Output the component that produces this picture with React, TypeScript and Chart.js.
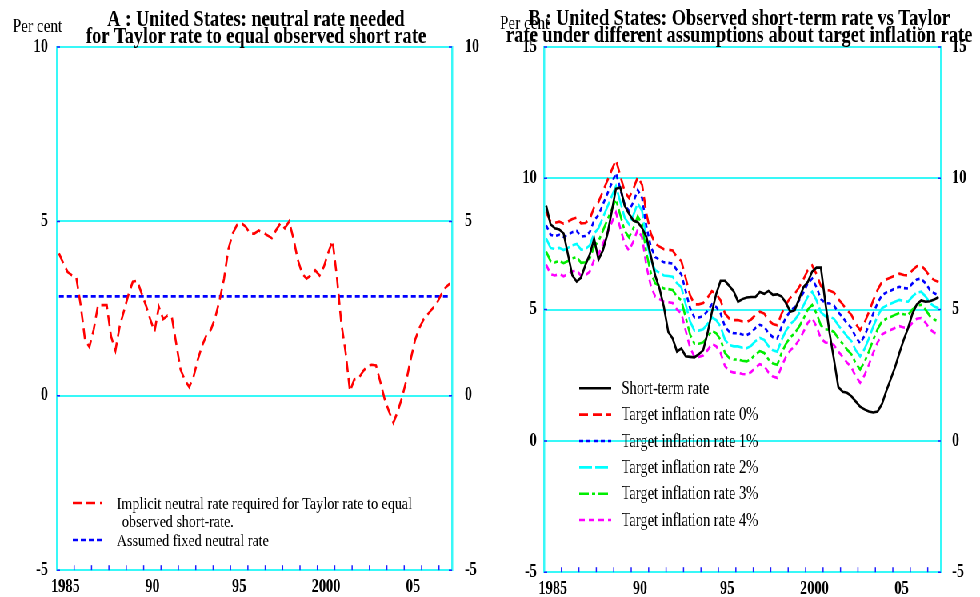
import React, { useEffect, useRef } from 'react';
import { Chart, registerables } from 'chart.js';

Chart.register(...registerables);

// ---------- data ----------
const START_YEAR = 1985; // quarterly data, 1985Q1 ... 2007Q3
const X_MIN = 1985;
const X_MAX = 2007.75;
const X_LABEL_POS = [1985.5, 1990.5, 1995.5, 2000.5, 2005.5];
const X_LABELS = ['1985', '90', '95', '2000', '05'];
const X_TICK_YEARS = [1986, 1987, 1988, 1989, 1990, 1991, 1992, 1993, 1994, 1995, 1996, 1997, 1998, 1999, 2000, 2001, 2002, 2003, 2004, 2005, 2006, 2007];

const LEFT_Y_TICKS = [-5, 0, 5, 10];
const RIGHT_Y_TICKS = [-5, 0, 5, 10, 15];

const LEFT_TITLE = ['A : United States: neutral rate needed', 'for Taylor rate to equal observed short rate'];
const RIGHT_TITLE = ['B : United States: Observed short-term rate vs Taylor', 'rate under different assumptions about target inflation rate'];
const Y_UNIT = 'Per cent';

const IMPLICIT_NEUTRAL = [
  4.08, 3.8, 3.55, 3.45, 3.38, 2.6, 1.6, 1.4, 1.9, 2.6,
  2.6, 2.6, 1.7, 1.3, 2.0, 2.45, 2.9, 3.27, 3.3, 2.95,
  2.6, 2.2, 1.84, 2.55, 2.2, 2.3, 2.25, 1.5, 0.75, 0.45,
  0.25, 0.55, 1.05, 1.45, 1.75, 1.9, 2.25, 2.75, 3.35, 4.2,
  4.65, 4.9, 4.95, 4.85, 4.65, 4.65, 4.74, 4.68, 4.6, 4.52,
  4.75, 4.95, 4.8, 5.0, 4.5, 3.9, 3.5, 3.36, 3.45, 3.6,
  3.45, 3.7, 4.1, 4.45, 3.4, 2.1, 1.25, 0.13, 0.47, 0.5,
  0.7, 0.85, 0.89, 0.87, 0.4, -0.1, -0.45, -0.77, -0.45, -0.05,
  0.45, 1.05, 1.6, 1.95, 2.2, 2.35, 2.5, 2.65, 2.9, 3.1,
  3.22,
];
const ASSUMED_NEUTRAL = 2.85;

const SHORT_RATE = [
  8.96, 8.25, 8.1, 8.05, 7.9, 7.1, 6.3, 6.07, 6.22, 6.7,
  7.1, 7.7, 6.9, 7.25, 7.85, 8.7, 9.6, 9.65, 8.96, 8.65,
  8.39, 8.33, 8.1, 7.76, 7.05, 6.3, 5.8, 5.1, 4.15, 3.9,
  3.4, 3.52, 3.22, 3.2, 3.18, 3.3, 3.45, 4.1, 4.9, 5.6,
  6.1, 6.1, 5.9, 5.7, 5.3, 5.4, 5.46, 5.48, 5.48, 5.67,
  5.6, 5.71, 5.56, 5.58, 5.5, 5.25, 4.92, 4.98, 5.4, 5.85,
  6.05, 6.45, 6.6, 6.6, 5.3, 4.1, 3.1, 2.05, 1.87, 1.83,
  1.7, 1.5, 1.3, 1.2, 1.12, 1.08, 1.12, 1.4, 1.9, 2.35,
  2.8, 3.35, 3.85, 4.3, 4.85, 5.2, 5.35, 5.3, 5.32, 5.38,
  5.48,
];

const TARGET_0 = [
  8.71, 8.35, 8.3, 8.35, 8.27, 8.35, 8.45, 8.5, 8.28, 8.3,
  8.45, 8.9, 9.1, 9.5, 9.9, 10.3, 10.7, 10.1, 9.5, 9.25,
  9.6, 10.05, 9.75, 8.65, 7.9, 7.5, 7.4, 7.3, 7.28, 7.25,
  7.0, 6.85, 6.2, 5.55, 5.2, 5.2, 5.25, 5.45, 5.7, 5.6,
  5.35, 4.85, 4.65, 4.6, 4.6, 4.55, 4.53, 4.62, 4.8, 4.92,
  4.85, 4.6, 4.45, 4.4, 4.85, 5.2, 5.45, 5.6, 5.85, 6.15,
  6.5, 6.68, 6.35, 5.9, 5.75, 5.73, 5.65, 5.4, 5.2, 4.98,
  4.8, 4.45, 4.22, 4.5, 4.9, 5.35, 5.75, 6.05, 6.15, 6.22,
  6.3, 6.37, 6.32, 6.3, 6.5, 6.65, 6.68, 6.5, 6.25, 6.12,
  6.05,
];
const TARGET_1 = [
  8.21, 7.85, 7.8, 7.85, 7.77, 7.85, 7.95, 8.0, 7.78, 7.8,
  7.95, 8.4, 8.6, 9.0, 9.4, 9.8, 10.2, 9.6, 9.0, 8.75,
  9.1, 9.55, 9.25, 8.15, 7.4, 7.0, 6.9, 6.8, 6.78, 6.75,
  6.5, 6.35, 5.7, 5.05, 4.7, 4.7, 4.75, 4.95, 5.2, 5.1,
  4.85, 4.35, 4.15, 4.1, 4.1, 4.05, 4.03, 4.12, 4.3, 4.42,
  4.35, 4.1, 3.95, 3.9, 4.35, 4.7, 4.95, 5.1, 5.35, 5.65,
  6.0, 6.18, 5.85, 5.4, 5.25, 5.23, 5.15, 4.9, 4.7, 4.48,
  4.3, 3.95, 3.72, 4.0, 4.4, 4.85, 5.25, 5.55, 5.65, 5.72,
  5.8, 5.87, 5.82, 5.8, 6.0, 6.15, 6.18, 6.0, 5.75, 5.62,
  5.55,
];
const TARGET_2 = [
  7.71, 7.35, 7.3, 7.35, 7.27, 7.35, 7.45, 7.5, 7.28, 7.3,
  7.45, 7.9, 8.1, 8.5, 8.9, 9.3, 9.7, 9.1, 8.5, 8.25,
  8.6, 9.05, 8.75, 7.65, 6.9, 6.5, 6.4, 6.3, 6.28, 6.25,
  6.0, 5.85, 5.2, 4.55, 4.2, 4.2, 4.25, 4.45, 4.7, 4.6,
  4.35, 3.85, 3.65, 3.6, 3.6, 3.55, 3.53, 3.62, 3.8, 3.92,
  3.85, 3.6, 3.45, 3.4, 3.85, 4.2, 4.45, 4.6, 4.85, 5.15,
  5.5, 5.68, 5.35, 4.9, 4.75, 4.73, 4.65, 4.4, 4.2, 3.98,
  3.8, 3.45, 3.22, 3.5, 3.9, 4.35, 4.75, 5.05, 5.15, 5.22,
  5.3, 5.37, 5.32, 5.3, 5.5, 5.65, 5.68, 5.5, 5.25, 5.12,
  5.05,
];
const TARGET_3 = [
  7.21, 6.85, 6.8, 6.85, 6.77, 6.85, 6.95, 7.0, 6.78, 6.8,
  6.95, 7.4, 7.6, 8.0, 8.4, 8.8, 9.2, 8.6, 8.0, 7.75,
  8.1, 8.55, 8.25, 7.15, 6.4, 6.0, 5.9, 5.8, 5.78, 5.75,
  5.5, 5.35, 4.7, 4.05, 3.7, 3.7, 3.75, 3.95, 4.2, 4.1,
  3.85, 3.35, 3.15, 3.1, 3.1, 3.05, 3.03, 3.12, 3.3, 3.42,
  3.35, 3.1, 2.95, 2.9, 3.35, 3.7, 3.95, 4.1, 4.35, 4.65,
  5.0, 5.18, 4.85, 4.4, 4.25, 4.23, 4.15, 3.9, 3.7, 3.48,
  3.3, 2.95, 2.72, 3.0, 3.4, 3.85, 4.25, 4.55, 4.65, 4.72,
  4.8, 4.87, 4.82, 4.8, 5.0, 5.15, 5.18, 5.0, 4.75, 4.62,
  4.55,
];
const TARGET_4 = [
  6.71, 6.35, 6.3, 6.35, 6.27, 6.35, 6.45, 6.5, 6.28, 6.3,
  6.45, 6.9, 7.1, 7.5, 7.9, 8.3, 8.7, 8.1, 7.5, 7.25,
  7.6, 8.05, 7.75, 6.65, 5.9, 5.5, 5.4, 5.3, 5.28, 5.25,
  5.0, 4.85, 4.2, 3.55, 3.2, 3.2, 3.25, 3.45, 3.7, 3.6,
  3.35, 2.85, 2.65, 2.6, 2.6, 2.55, 2.53, 2.62, 2.8, 2.92,
  2.85, 2.6, 2.45, 2.4, 2.85, 3.2, 3.45, 3.6, 3.85, 4.15,
  4.5, 4.68, 4.35, 3.9, 3.75, 3.73, 3.65, 3.4, 3.2, 2.98,
  2.8, 2.45, 2.22, 2.5, 2.9, 3.35, 3.75, 4.05, 4.15, 4.22,
  4.3, 4.37, 4.32, 4.3, 4.5, 4.65, 4.68, 4.5, 4.25, 4.12,
  4.05,
];

// ---------- style ----------
const SX = 0.8; // horizontal compression of the whole figure
const FONT = "'Liberation Serif', 'Times New Roman', serif";
const CYAN = '#38F8F8';
const TICK_BLUE = '#2020FF';

const quarterX = (i: number) => START_YEAR + (i + 0.5) / 4;
const toPoints = (arr: number[]) => arr.map((v, i) => ({ x: quarterX(i), y: v }));

type LegendItem = { ds?: number; text: string; y: number; textX?: number };

function makeDecor(cfg: {
  title: string[];
  titleY: number[];
  titleDX: number;
  perCentX: number;
  perCentY: number;
  yTicks: number[];
  legend: LegendItem[];
  legendFont: number;
  sampleX0: number;
  sampleX1: number;
  textX: number;
}) {
  return {
    id: 'decor',
    afterDraw(chart: any) {
      const { ctx, chartArea: a } = chart;
      ctx.save();
      // small inward tick marks
      ctx.strokeStyle = TICK_BLUE;
      ctx.lineWidth = 1.5;
      ctx.setLineDash([]);
      const xs = chart.scales.x;
      X_TICK_YEARS.forEach((yr) => {
        const px = xs.getPixelForValue(yr);
        ctx.beginPath();
        ctx.moveTo(px, a.bottom);
        ctx.lineTo(px, a.bottom - 5);
        ctx.stroke();
      });
      const ys = chart.scales.y;
      cfg.yTicks.forEach((v) => {
        const py = ys.getPixelForValue(v);
        ctx.beginPath();
        ctx.moveTo(a.left, py);
        ctx.lineTo(a.left + 4, py);
        ctx.moveTo(a.right - 4, py);
        ctx.lineTo(a.right, py);
        ctx.stroke();
      });
      // titles
      ctx.fillStyle = '#000';
      ctx.textAlign = 'center';
      ctx.textBaseline = 'alphabetic';
      ctx.font = `bold 23px ${FONT}`;
      cfg.title.forEach((t, k) => ctx.fillText(t, (a.left + a.right) / 2 + cfg.titleDX, cfg.titleY[k]));
      ctx.textAlign = 'left';
      ctx.font = `19px ${FONT}`;
      ctx.fillText(Y_UNIT, cfg.perCentX, cfg.perCentY);
      // legend
      ctx.font = `${cfg.legendFont}px ${FONT}`;
      ctx.textBaseline = 'middle';
      cfg.legend.forEach((it) => {
        if (it.ds !== undefined) {
          const ds = chart.data.datasets[it.ds];
          ctx.strokeStyle = ds.borderColor;
          ctx.lineWidth = ds.borderWidth;
          ctx.setLineDash(ds.borderDash || []);
          ctx.beginPath();
          ctx.moveTo(cfg.sampleX0, it.y);
          ctx.lineTo(cfg.sampleX1, it.y);
          ctx.stroke();
        }
        ctx.fillStyle = '#000';
        ctx.fillText(it.text, it.textX ?? cfg.textX, it.y + 1);
      });
      ctx.restore();
    },
  };
}

function scalesFor(yMin: number, yMax: number, yTicks: number[], leftW: number, rightW: number, padL: number, padR: number) {
  const tickFont = { family: FONT, size: 18, weight: 'bold' as const };
  return {
    x: {
      type: 'linear' as const,
      min: X_MIN,
      max: X_MAX,
      grid: { display: false, drawTicks: false },
      border: { color: CYAN, width: 2 },
      ticks: {
        autoSkip: false,
        maxRotation: 0,
        padding: 6,
        color: '#000',
        font: tickFont,
        callback: (v: any) => {
          const k = X_LABEL_POS.indexOf(Number(v));
          return k >= 0 ? X_LABELS[k] : '';
        },
      },
      afterBuildTicks: (s: any) => {
        s.ticks = X_LABEL_POS.map((v) => ({ value: v }));
      },
      afterFit: (s: any) => {
        s.height = 24;
      },
    },
    y: {
      position: 'left' as const,
      min: yMin,
      max: yMax,
      grid: { color: CYAN, lineWidth: 2, drawTicks: false },
      border: { color: CYAN, width: 2.5 },
      ticks: { padding: padL, color: '#000', font: tickFont },
      afterBuildTicks: (s: any) => {
        s.ticks = yTicks.map((v) => ({ value: v }));
      },
      afterFit: (s: any) => {
        s.width = leftW;
      },
    },
    y2: {
      position: 'right' as const,
      min: yMin,
      max: yMax,
      grid: { display: false, drawTicks: false },
      border: { color: CYAN, width: 2.5 },
      ticks: { padding: padR, color: '#000', font: tickFont },
      afterBuildTicks: (s: any) => {
        s.ticks = yTicks.map((v) => ({ value: v }));
      },
      afterFit: (s: any) => {
        s.width = rightW;
      },
    },
  };
}

function line(label: string, data: number[], color: string, dash: number[], width = 2.6) {
  return {
    label,
    data: toPoints(data),
    borderColor: color,
    backgroundColor: color,
    borderWidth: width,
    borderDash: dash,
    pointRadius: 0,
    fill: false,
    tension: 0,
    yAxisID: 'y',
  };
}

function LeftChart() {
  const ref = useRef<HTMLCanvasElement>(null);
  useEffect(() => {
    const chart = new Chart(ref.current as HTMLCanvasElement, {
      type: 'line',
      data: {
        datasets: [
          line('Implicit neutral rate required for Taylor rate to equal observed short-rate.', IMPLICIT_NEUTRAL, '#FF0000', [11, 6]),
          line('Assumed fixed neutral rate', IMPLICIT_NEUTRAL.map(() => ASSUMED_NEUTRAL), '#0000FF', [6, 4]),
        ],
      },
      options: {
        responsive: false,
        animation: false,
        layout: { padding: { top: 47, left: 0, right: 0, bottom: 0 } },
        plugins: { legend: { display: false }, title: { display: false }, tooltip: { enabled: false } },
        scales: scalesFor(-5, 10, LEFT_Y_TICKS, 71, 47, 11, 16) as any,
      },
      plugins: [
        makeDecor({
          title: LEFT_TITLE,
          titleY: [26, 43],
          titleDX: 2,
          perCentX: 16,
          perCentY: 32,
          yTicks: LEFT_Y_TICKS,
          legendFont: 17.6,
          sampleX0: 91,
          sampleX1: 128,
          textX: 146,
          legend: [
            { ds: 0, text: 'Implicit neutral rate required for Taylor rate to equal', y: 503 },
            { text: 'observed short-rate.', y: 521.5, textX: 152.5 },
            { ds: 1, text: 'Assumed fixed neutral rate', y: 540 },
          ],
        }),
      ],
    });
    return () => chart.destroy();
  }, []);
  return <canvas ref={ref} width={612} height={597} style={{ display: 'block', width: 612, height: 597 }} />;
}

function RightChart() {
  const ref = useRef<HTMLCanvasElement>(null);
  useEffect(() => {
    const labels = ['Short-term rate', 'Target inflation rate 0%', 'Target inflation rate 1%', 'Target inflation rate 2%', 'Target inflation rate 3%', 'Target inflation rate 4%'];
    const chart = new Chart(ref.current as HTMLCanvasElement, {
      type: 'line',
      data: {
        datasets: [
          line(labels[0], SHORT_RATE, '#000000', [], 2.6),
          line(labels[1], TARGET_0, '#FF0000', [11, 6]),
          line(labels[2], TARGET_1, '#0000FF', [5, 4]),
          line(labels[3], TARGET_2, '#00FFFF', [16, 4]),
          line(labels[4], TARGET_3, '#00EE00', [12, 4, 4, 4]),
          line(labels[5], TARGET_4, '#FF00FF', [7, 5]),
        ],
      },
      options: {
        responsive: false,
        animation: false,
        layout: { padding: { top: 47, left: 0, right: 0, bottom: 0 } },
        plugins: { legend: { display: false }, title: { display: false }, tooltip: { enabled: false } },
        scales: scalesFor(-5, 15, RIGHT_Y_TICKS, 68, 49, 9, 14) as any,
      },
      plugins: [
        makeDecor({
          title: RIGHT_TITLE,
          titleY: [25, 42],
          titleDX: -4,
          perCentX: 13,
          perCentY: 29,
          yTicks: RIGHT_Y_TICKS,
          legendFont: 18,
          sampleX0: 112,
          sampleX1: 152,
          textX: 165,
          legend: labels.map((t, k) => ({ ds: k, text: t, y: 388.3 + 26.35 * k })),
        }),
      ],
    });
    return () => chart.destroy();
  }, []);
  return <canvas ref={ref} width={613} height={597} style={{ display: 'block', width: 613, height: 597 }} />;
}

export default function App() {
  return (
    <div
      style={{
        position: 'fixed',
        left: 0,
        top: 0,
        width: 1225,
        height: 597,
        display: 'flex',
        background: '#fff',
        transform: `scaleX(${SX})`,
        transformOrigin: '0 0',
      }}
    >
      <LeftChart />
      <RightChart />
    </div>
  );
}
